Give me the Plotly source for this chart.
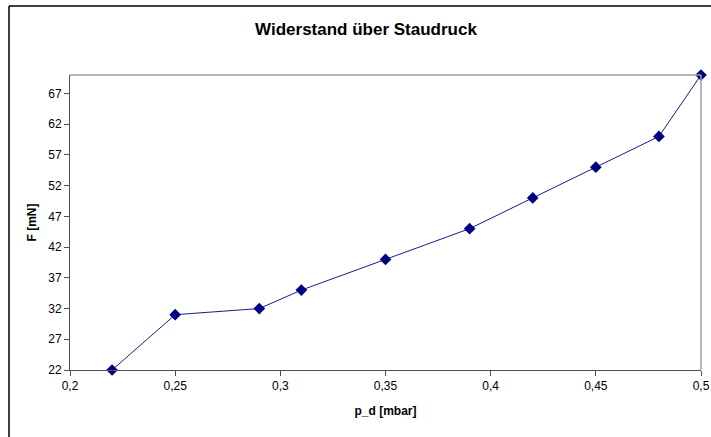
import plotly.graph_objects as go

p_d = [0.22, 0.25, 0.29, 0.31, 0.35, 0.39, 0.42, 0.45, 0.48, 0.5]
force = [22, 31, 32, 35, 40, 45, 50, 55, 60, 70]

title_text = "Widerstand über Staudruck"
x_title = "p_d [mbar]"
y_title = "F [mN]"

FONT = "Liberation Sans, Arial, sans-serif"

fig = go.Figure()
fig.add_trace(go.Scatter(
    x=p_d, y=force, mode="lines+markers",
    line=dict(color="#1a1a8c", width=1),
    marker=dict(symbol="diamond", size=9, color="#000080"),
    cliponaxis=False, showlegend=False,
))

fig.update_layout(
    width=711, height=437,
    margin=dict(l=70, r=10, t=75, b=67, autoexpand=False),
    paper_bgcolor="white", plot_bgcolor="white",
    separators=",.",
    font=dict(family=FONT, size=12, color="black"),
    title=dict(text="<b>" + title_text + "</b>", x=366 / 711, xanchor="center",
               y=1 - 29 / 437, yanchor="middle", yref="container",
               font=dict(size=17, family=FONT, color="black")),
    xaxis=dict(range=[0.2, 0.5], tick0=0.2, dtick=0.05, showgrid=False, zeroline=False,
               automargin=False,
               showline=True, linecolor="#505050", linewidth=1,
               ticks="outside", ticklen=5, tickcolor="#505050",
               tickfont=dict(size=12, family=FONT),
               title=dict(text="<b>" + x_title + "</b>", standoff=14,
                          font=dict(size=12, family=FONT))),
    yaxis=dict(range=[22, 70], tick0=22, dtick=5, showgrid=False, zeroline=False,
               automargin=False,
               showline=True, linecolor="#505050", linewidth=1,
               ticks="outside", ticklen=5, tickcolor="#505050",
               tickfont=dict(size=12, family=FONT),
               title=dict(text="<b>" + y_title + "</b>", standoff=9,
                          font=dict(size=12, family=FONT))),
    shapes=[
        # plot area frame (top, right)
        dict(type="line", xref="paper", yref="paper", x0=0, x1=1, y0=1, y1=1,
             line=dict(color="#a0a0a0", width=1.5)),
        dict(type="line", xref="paper", yref="paper", x0=1, x1=1, y0=0, y1=1,
             line=dict(color="#a0a0a0", width=1.5)),
        # chart area border (top, left)
        dict(type="line", xref="paper", yref="paper",
             x0=-61 / 631, x1=1 + 10 / 631, y0=1 + 69 / 295, y1=1 + 69 / 295,
             line=dict(color="black", width=1.5)),
        dict(type="line", xref="paper", yref="paper",
             x0=-61 / 631, x1=-61 / 631, y0=-67 / 295, y1=1 + 69 / 295,
             line=dict(color="black", width=1.5)),
    ],
)

fig.write_html("out.html")
